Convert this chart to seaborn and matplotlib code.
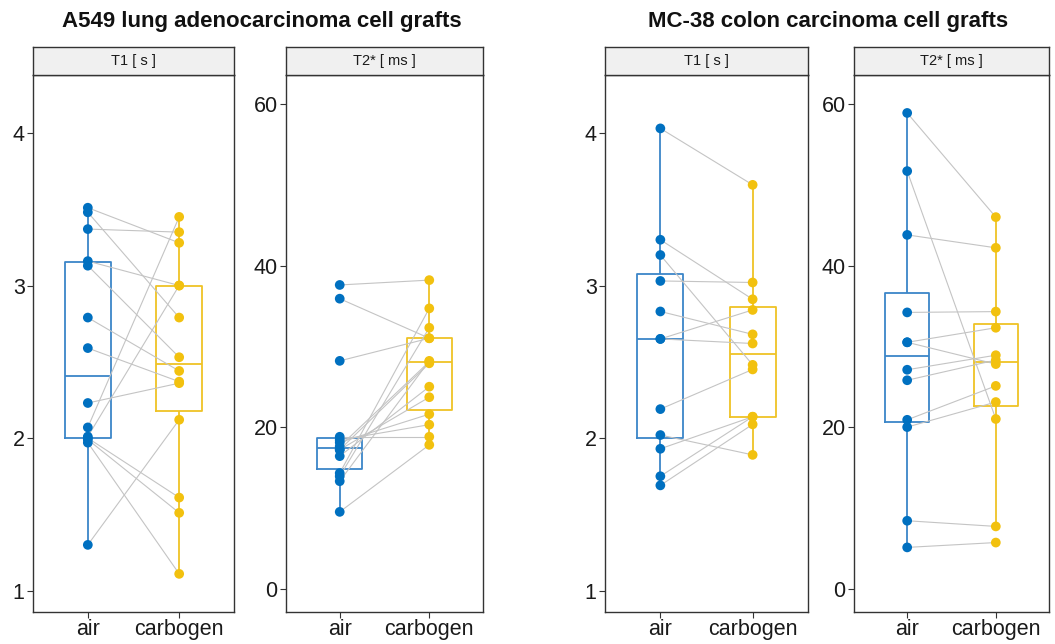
import numpy as np
import pandas as pd
import seaborn as sns
import matplotlib.pyplot as plt

sns.set_theme(style="white")
plt.rcParams["font.family"] = ["Liberation Sans", "DejaVu Sans"]

# paired measurements (same index = same tumour, air -> carbogen)
a549_t1_air = [3.51, 3.48, 3.37, 3.16, 3.13, 2.79, 2.59, 2.23, 2.07, 2.01, 2.00, 1.99, 1.97, 1.30]
a549_t1_carbogen = [3.28, 2.79, 3.35, 3.00, 2.53, 2.44, 2.37, 2.36, 3.45, 3.00, 1.61, 1.51, 1.11, 2.12]

a549_t2_air = [37.6, 35.9, 28.2, 18.8, 18.4, 18.1, 17.6, 17.2, 17.2, 16.4, 14.3, 13.9, 13.3, 9.5]
a549_t2_carbogen = [38.2, 31.0, 31.0, 18.8, 20.3, 21.6, 28.1, 23.7, 27.9, 25.0, 34.7, 32.3, 28.2, 17.8]

mc38_t1_air = [4.03, 3.30, 3.20, 3.03, 2.83, 2.65, 2.65, 2.19, 2.02, 1.93, 1.75, 1.69]
mc38_t1_carbogen = [3.66, 2.91, 2.48, 3.02, 2.68, 2.84, 2.62, 2.45, 1.89, 2.14, 2.14, 2.09]

mc38_t2_air = [58.9, 51.7, 43.8, 34.2, 30.5, 30.5, 27.1, 25.8, 20.9, 20.0, 8.4, 5.1]
mc38_t2_carbogen = [46.0, 21.0, 42.2, 34.3, 32.3, 27.8, 28.9, 28.3, 25.1, 23.1, 7.7, 5.7]

conditions = ["air", "carbogen"]
point_colors = {"air": "#0070C0", "carbogen": "#F2C10F"}
box_colors = {"air": "#3C86C8", "carbogen": "#EFC325"}

W, H = 1055, 644
fig = plt.figure(figsize=(W / 100, H / 100), dpi=100)


def make_df(air, carb):
    n = len(air)
    return pd.DataFrame({
        "pair": list(range(n)) * 2,
        "condition": ["air"] * n + ["carbogen"] * n,
        "pos": [0] * n + [1] * n,
        "value": list(air) + list(carb),
    })


panels = [
    (a549_t1_air, a549_t1_carbogen, "T1 [ s ]", (0.86, 4.38), [1, 2, 3, 4], 33, 234),
    (a549_t2_air, a549_t2_carbogen, "T2* [ ms ]", (-2.9, 63.6), [0, 20, 40, 60], 286, 483),
    (mc38_t1_air, mc38_t1_carbogen, "T1 [ s ]", (0.86, 4.38), [1, 2, 3, 4], 605, 808),
    (mc38_t2_air, mc38_t2_carbogen, "T2* [ ms ]", (-2.9, 63.6), [0, 20, 40, 60], 854, 1049),
]

top, bottom, strip_top = 75, 612, 47

for air, carb, label, ylim, yticks, left, right in panels:
    df = make_df(air, carb)
    ax = fig.add_axes([left / W, 1 - bottom / H, (right - left) / W, (bottom - top) / H])

    sns.boxplot(ax=ax, data=df, x="condition", y="value", hue="condition",
                order=conditions, hue_order=conditions, palette=box_colors,
                fill=False, width=0.5, showfliers=False, showcaps=False,
                linewidth=1.3, legend=False)
    sns.lineplot(ax=ax, data=df, x="pos", y="value", units="pair", estimator=None,
                 color="#C4C4C4", linewidth=0.8, zorder=2.5, legend=False)
    sns.stripplot(ax=ax, data=df, x="condition", y="value", hue="condition",
                  order=conditions, hue_order=conditions, palette=point_colors,
                  jitter=False, size=7, linewidth=0, zorder=3, legend=False)

    ax.set_xlim(-0.6, 1.6)
    ax.set_ylim(*ylim)
    ax.set_xticks([0, 1])
    ax.set_xticklabels(conditions)
    ax.set_yticks(yticks)
    ax.set_xlabel("")
    ax.set_ylabel("")
    ax.tick_params(axis="both", which="both", length=4, width=0.8, color="#333333",
                   labelsize=15.5, labelcolor="#1a1a1a", bottom=True, left=True, pad=2)
    ax.tick_params(axis="x", labelsize=15.5, pad=1)
    for s in ax.spines.values():
        s.set_color("#333333")
        s.set_linewidth(1.0)

    strip = fig.add_axes([left / W, 1 - top / H, (right - left) / W, (top - strip_top) / H])
    strip.set_facecolor("#F0F0F0")
    strip.set_xticks([])
    strip.set_yticks([])
    for s in strip.spines.values():
        s.set_color("#333333")
        s.set_linewidth(1.0)
    strip.text(0.5, 0.5, label, ha="center", va="center", fontsize=10.5, color="#1a1a1a")

fig.text(262 / W, 1 - 22 / H, "A549 lung adenocarcinoma cell grafts",
         ha="center", va="center", fontsize=16, fontweight="bold", color="#111111")
fig.text(828 / W, 1 - 22 / H, "MC-38 colon carcinoma cell grafts",
         ha="center", va="center", fontsize=16, fontweight="bold", color="#111111")

fig.savefig("out.png", dpi=100)
